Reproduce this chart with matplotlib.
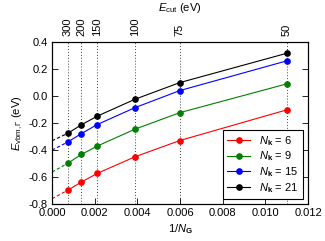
import matplotlib
matplotlib.use("Agg")
import matplotlib.pyplot as plt
import numpy as np

# cutoff energies (eV) and the matching 1/N_G values
ecut = [300, 200, 150, 100, 75, 50]
inv_ng = [0.00075, 0.001375, 0.00212, 0.00389, 0.00599, 0.01099]

nk = [6, 9, 15, 21]
colors = ['red', 'green', 'blue', 'black']

e_nk6 = [-0.697, -0.638, -0.574, -0.451, -0.331, -0.105]
e_nk9 = [-0.498, -0.434, -0.372, -0.247, -0.125, 0.087]
e_nk15 = [-0.341, -0.280, -0.213, -0.088, 0.038, 0.257]
e_nk21 = [-0.277, -0.215, -0.151, -0.026, 0.097, 0.313]

# extrapolated values at 1/N_G = 0
e_extrap = [-0.761, -0.564, -0.402, -0.333]

plt.rcParams['font.family'] = 'Liberation Sans'
plt.rcParams['font.size'] = 8
plt.rcParams['mathtext.fontset'] = 'custom'
plt.rcParams['mathtext.rm'] = 'Liberation Sans'
plt.rcParams['mathtext.it'] = 'Liberation Sans:italic'
plt.rcParams['mathtext.bf'] = 'Liberation Sans:bold'

fig = plt.figure(figsize=(3.25, 2.41), dpi=100)
ax = fig.add_axes([0.16, 0.1535, 0.788, 0.674])

for x in inv_ng:
    ax.axvline(x, color='black', linestyle=(0, (1, 2.5)), linewidth=0.6, zorder=0)

series = [e_nk6, e_nk9, e_nk15, e_nk21]
for n, c, ys, y0 in zip(nk, colors, series, e_extrap):
    ax.plot([0, inv_ng[0]], [y0, ys[0]], color=c, linestyle=(0, (3, 2)), linewidth=0.8)
    ax.plot(inv_ng, ys, color=c, marker='o', markersize=3.8, linewidth=0.8,
            label=r'$N_\mathbf{k}$ = %d' % n)

xt = np.arange(0, 0.0121, 0.002)
yt = np.arange(-0.8, 0.41, 0.2)
ax.set_xlim(0, 0.012)
ax.set_ylim(-0.8, 0.4)
ax.set_xticks(xt)
ax.set_xticklabels(['%.3f' % v for v in xt])
ax.set_yticks(yt)
ax.set_yticklabels(['%.1f' % (0.0 if abs(v) < 1e-9 else v) for v in yt])
ax.tick_params(direction='in', top=False, right=True, length=4, width=0.6, labelsize=8, pad=3)
ax.set_xlabel(r'$1/N_\mathbf{G}$', labelpad=3, fontsize=8)
ax.set_ylabel(r'$E_{\mathrm{vbm},\Gamma}$ (eV)', labelpad=3, fontsize=8)
for s in ax.spines.values():
    s.set_linewidth(0.8)

top = ax.twiny()
top.set_xlim(ax.get_xlim())
top.set_xticks(inv_ng)
top.set_xticklabels([str(e) for e in ecut], rotation=90)
top.tick_params(length=0, pad=4, labelsize=8)
top.set_xlabel(r'$E_\mathrm{cut}$ (eV)', labelpad=5, fontsize=8)

leg = ax.legend(loc='lower right', fancybox=False, edgecolor='black',
                framealpha=1, handlelength=2.1, borderpad=0.4, fontsize=8,
                labelspacing=0.16, handletextpad=0.8, borderaxespad=0.45)
leg.get_frame().set_linewidth(0.8)

fig.savefig('out.png', dpi=100)
